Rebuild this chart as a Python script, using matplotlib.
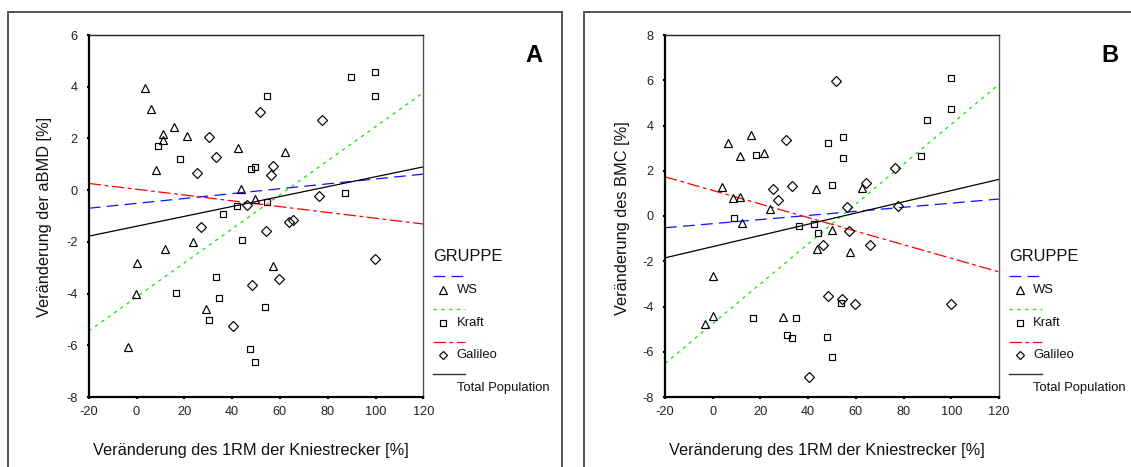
import matplotlib
matplotlib.use("Agg")
import matplotlib.pyplot as plt
from matplotlib.lines import Line2D
from matplotlib.patches import Rectangle

plt.rcParams['font.family'] = ['Liberation Sans', 'DejaVu Sans']
plt.rcParams['lines.scale_dashes'] = False
plt.rcParams['axes.unicode_minus'] = False

# ---------------- data ----------------
groups = ["WS", "Kraft", "Galileo"]

# Panel A: aBMD
a_ws_x = [3.6, 6.1, 11.1, 11.1, 15.6, 21.1, 8.0, 42.6, 43.6, 49.6, 62.1, 0.1, 11.9, 23.5, -0.1, 29.1, -3.6, 57.1]
a_ws_y = [3.94, 3.14, 2.17, 1.92, 2.44, 2.08, 0.77, 1.62, 0.03, -0.34, 1.47, -2.83, -2.28, -2.01, -4.0, -4.6, -6.08, -2.92]
a_kr_x = [9.0, 18.2, 36.1, 42.2, 48.0, 49.7, 54.6, 54.6, 89.7, 99.8, 99.8, 87.2, 44.0, 33.1, 16.5, 34.5, 30.5, 53.6, 47.6, 49.6]
a_kr_y = [1.69, 1.22, -0.91, -0.60, 0.82, 0.90, 3.63, -0.45, 4.37, 4.57, 3.63, -0.11, -1.92, -3.36, -3.97, -4.19, -5.02, -4.52, -6.13, -6.65]
a_ga_x = [30.5, 33.1, 25.2, 51.7, 57.1, 56.2, 46.1, 27.1, 54.2, 63.7, 65.6, 77.8, 76.2, 99.8, 48.2, 59.7, 40.3]
a_ga_y = [2.07, 1.28, 0.67, 3.03, 0.92, 0.58, -0.58, -1.41, -1.58, -1.22, -1.17, 2.70, -0.22, -2.68, -3.68, -3.45, -5.26]

# Panel B: BMC
b_ws_x = [6.4, 15.9, 11.4, 21.5, 3.9, 8.3, 11.4, 23.9, 12.4, 43.2, 62.7, 49.9, 43.8, 57.4, 0.2, 0.2, -3.3, 29.3]
b_ws_y = [3.24, 3.57, 2.66, 2.78, 1.28, 0.81, 0.85, 0.29, -0.30, 1.19, 1.22, -0.62, -1.48, -1.57, -2.65, -4.40, -4.77, -4.46]
b_kr_x = [18.1, 48.2, 54.7, 54.7, 49.9, 9.1, 100.0, 100.0, 89.9, 87.3, 36.2, 42.4, 44.3, 53.8, 16.8, 35.1, 31.0, 33.4, 48.0, 49.9]
b_kr_y = [2.69, 3.24, 3.51, 2.55, 1.38, -0.11, 6.09, 4.72, 4.23, 2.65, -0.43, -0.37, -0.76, -3.84, -4.50, -4.50, -5.24, -5.40, -5.35, -6.24]
b_ga_x = [51.8, 30.7, 25.1, 33.2, 27.2, 56.3, 57.3, 76.4, 64.1, 77.8, 65.8, 100.0, 59.7, 54.4, 46.2, 48.2, 40.2]
b_ga_y = [5.98, 3.34, 1.20, 1.34, 0.69, 0.41, -0.68, 2.13, 1.44, 0.42, -1.27, -3.91, -3.87, -3.69, -1.27, -3.54, -7.10]

# regression lines: values at x = -20 and x = 120
fit_x = [-20, 120]
a_fit_ws = [-0.70, 0.62]
a_fit_kr = [-5.45, 3.77]
a_fit_ga = [0.26, -1.31]
a_fit_tot = [-1.78, 0.90]
b_fit_ws = [-0.52, 0.75]
b_fit_kr = [-6.52, 5.82]
b_fit_ga = [1.73, -2.47]
b_fit_tot = [-1.85, 1.62]

x_ticks = [-20, 0, 20, 40, 60, 80, 100, 120]
a_yticks = [-8, -6, -4, -2, 0, 2, 4, 6]
b_yticks = [-8, -6, -4, -2, 0, 2, 4, 6, 8]

x_label = "Veränderung des 1RM der Kniestrecker [%]"
a_ylabel = "Veränderung der aBMD [%]"
b_ylabel = "Veränderung des BMC [%]"
legend_title = "GRUPPE"
total_label = "Total Population"

# ---------------- styling ----------------
W, H = 1131, 467
fig = plt.figure(figsize=(W / 100, H / 100), dpi=100)

def fx(px):
    return px / W

def fy(py):
    return 1 - py / H

line_styles = {
    "WS": dict(color="#1010ff", dashes=(8.5, 4.5)),
    "Kraft": dict(color="#00ee00", dashes=(2.4, 3.2)),
    "Galileo": dict(color="#ff0000", dashes=(9.0, 2.6, 2.6, 2.6)),
    "Total": dict(color="black"),
}
markers = {"WS": "^", "Kraft": "s", "Galileo": "D"}
msizes = {"WS": 6.0, "Kraft": 4.4, "Galileo": 4.8}

def make_panel(ax_px, data, fits, yticks, ylim, ylabel, letter, letter_px,
               ylabel_px, frame_px, legend_left):
    l, t, r, b = ax_px
    ax = fig.add_axes([fx(l), fy(b), fx(r) - fx(l), fy(t) - fy(b)])
    for g in groups:
        st = line_styles[g]
        ax.plot(fit_x, fits[g], lw=0.9, **st, zorder=2)
    ax.plot(fit_x, fits["Total"], lw=0.9, color="black", zorder=2)
    for g in groups:
        xs, ys = data[g]
        ax.plot(xs, ys, linestyle="none", marker=markers[g], ms=msizes[g],
                mfc="none", mec="black", mew=0.85, zorder=3)
    ax.set_xlim(-20, 120)
    ax.set_ylim(*ylim)
    ax.set_xticks(x_ticks)
    ax.set_yticks(yticks)
    ax.tick_params(direction="out", length=1.6, width=1.6, labelsize=9.2,
                   colors="black", labelcolor="#222222", pad=5)
    ax.tick_params(axis="y", pad=6.5)
    for s in ["left", "bottom"]:
        ax.spines[s].set_linewidth(1.6)
        ax.spines[s].set_color("black")
    ax.spines["top"].set_linewidth(1.0)
    ax.spines["top"].set_color("#222222")
    ax.spines["right"].set_linewidth(1.0)
    ax.spines["right"].set_color("#555555")

    fig.text(fx(ylabel_px[0]), fy(ylabel_px[1]), ylabel, rotation=90,
             ha="center", va="center", fontsize=11.8, color="#111111")
    fig.text(fx((l + r) / 2 - 5.5), fy(450), x_label, ha="center",
             va="center", fontsize=11.8, color="#111111")
    fig.text(fx(letter_px[0]), fy(letter_px[1]), letter, ha="center",
             va="center", fontsize=17, fontweight="bold")

    fl, ft, fr = frame_px
    fig.add_artist(Rectangle((fx(fl), fy(H + 20)), fx(fr) - fx(fl),
                             fy(ft) - fy(H + 20), transform=fig.transFigure,
                             fill=False, ec="#555555", lw=1.4, clip_on=False))

    # legend
    L = legend_left
    fig.text(fx(L), fy(256.7), legend_title, ha="left", va="center",
             fontsize=11.8, color="#111111")
    rows = [("WS", 275.7, 290.3), ("Kraft", 309.0, 322.7), ("Galileo", 342.0, 355.0)]
    for g, yl, ym in rows:
        fig.add_artist(Line2D([fx(L), fx(L + 32.6)], [fy(yl), fy(yl)],
                              transform=fig.transFigure, lw=0.9, **line_styles[g]))
        fig.add_artist(Line2D([fx(L + 10.6)], [fy(ym)], transform=fig.transFigure,
                              linestyle="none", marker=markers[g],
                              ms=msizes[g] * 0.85, mfc="none", mec="black", mew=0.85))
        fig.text(fx(L + 24), fy(ym), g, ha="left", va="center", fontsize=9.4,
                 color="#111111")
    fig.add_artist(Line2D([fx(L), fx(L + 32.6)], [fy(374), fy(374)],
                          transform=fig.transFigure, lw=1.0, color="#333333"))
    fig.text(fx(L + 24), fy(388.3), total_label, ha="left", va="center",
             fontsize=9.4, color="#111111")
    return ax

make_panel((88.7, 35, 423.3, 397),
           {"WS": (a_ws_x, a_ws_y), "Kraft": (a_kr_x, a_kr_y), "Galileo": (a_ga_x, a_ga_y)},
           {"WS": a_fit_ws, "Kraft": a_fit_kr, "Galileo": a_fit_ga, "Total": a_fit_tot},
           a_yticks, (-8, 6), a_ylabel, "A", (534, 55), (45, 217), (8, 12, 562), 432.7)

make_panel((665, 35, 999, 397),
           {"WS": (b_ws_x, b_ws_y), "Kraft": (b_kr_x, b_kr_y), "Galileo": (b_ga_x, b_ga_y)},
           {"WS": b_fit_ws, "Kraft": b_fit_kr, "Galileo": b_fit_ga, "Total": b_fit_tot},
           b_yticks, (-8, 8), b_ylabel, "B", (1110, 55), (623, 218), (584, 12, 1145), 1009.3)

fig.savefig("out.png", dpi=100)
